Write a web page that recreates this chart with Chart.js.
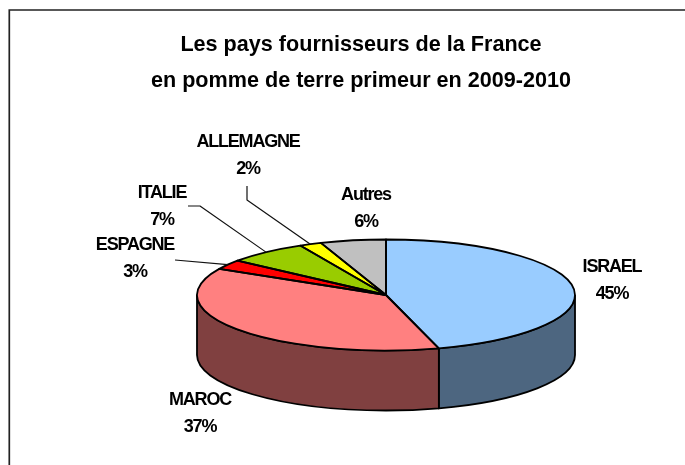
<!DOCTYPE html>
<html><head><meta charset="utf-8">
<style>html,body{margin:0;padding:0;background:#fff}canvas{display:block}</style>
<script src="https://cdn.jsdelivr.net/npm/chart.js@4/dist/chart.umd.min.js"></script>
</head><body><canvas id="c" width="685" height="465"></canvas>
<script>
const categories = ["ISRAEL","MAROC","ESPAGNE","ITALIE","ALLEMAGNE","Autres"];
const shareValues = [45.49,37.31,2.8,6.9,1.9,5.6];
const topColors = ["#99CCFF","#FF8080","#FF0000","#99CC00","#FFFF00","#C0C0C0"];
const sideColors = ["#4D6680","#804040","#800000","#4D6600","#808000","#606060"];
const titleLines = ["Les pays fournisseurs de la France","en pomme de terre primeur en 2009-2010"];

// label text centres and leader-line waypoints (null = no leader)
const labelPos = [[612,267],[200,400],[135,245],[162,193],[248,142],[366,195]];
const leaderPts = [null,null,[[175,260]],[[188,206],[200,206]],[[247,186],[247,200]],null];

const PIE = {cx:386, cy:295, rx:189, ry:55.5, depth:60};
const FONT = 'bold 18px "Liberation Sans", Arial, sans-serif';

function project(arc, a){ return [PIE.cx+PIE.rx*Math.cos(a), PIE.cy+PIE.ry*Math.sin(a)]; }
function pieTransform(ctx, arc, dy){
  const k = PIE.rx/arc.outerRadius;
  ctx.translate(PIE.cx, PIE.cy+(dy||0));
  ctx.scale(k, PIE.ry/PIE.rx*k);
  ctx.translate(-arc.x, -arc.y);
}
const pie3d = {
  id:'pie3d',
  beforeDraw(chart){
    const ctx = chart.ctx;
    ctx.save();
    ctx.fillStyle='#fff'; ctx.fillRect(0,0,685,465);
    ctx.strokeStyle='#222'; ctx.lineWidth=1.7;
    ctx.beginPath(); ctx.moveTo(9.3,470); ctx.lineTo(9.3,10); ctx.lineTo(690,10); ctx.stroke();
    ctx.restore();
  },
  beforeDatasetsDraw(chart){
    const ctx = chart.ctx, arcs = chart.getDatasetMeta(0).data;
    ctx.save();
    arcs.forEach((arc,i)=>{
      const s=Math.max(arc.startAngle,0), e=Math.min(arc.endAngle,Math.PI);
      if(e<=s) return;
      ctx.beginPath();
      ctx.ellipse(PIE.cx,PIE.cy,PIE.rx,PIE.ry,0,s,e);
      ctx.ellipse(PIE.cx,PIE.cy+PIE.depth,PIE.rx,PIE.ry,0,e,s,true);
      ctx.closePath();
      ctx.fillStyle=sideColors[i]; ctx.fill();
      ctx.strokeStyle='#000'; ctx.lineWidth=1.8; ctx.stroke();
    });
    ctx.restore();
    ctx.save();
    pieTransform(ctx, arcs[0]);
  },
  afterDatasetsDraw(chart){
    const ctx = chart.ctx, arcs = chart.getDatasetMeta(0).data;
    ctx.restore();
    ctx.save();
    ctx.strokeStyle='#000'; ctx.lineWidth=1.8; ctx.lineJoin='round';
    arcs.forEach(arc=>{
      ctx.beginPath();
      ctx.moveTo(PIE.cx,PIE.cy);
      ctx.ellipse(PIE.cx,PIE.cy,PIE.rx,PIE.ry,0,arc.startAngle,arc.endAngle);
      ctx.closePath();
      ctx.stroke();
    });
    ctx.lineWidth=1.2; ctx.strokeStyle='#111';
    arcs.forEach((arc,i)=>{
      if(!leaderPts[i]) return;
      const end=project(arc,(arc.startAngle+arc.endAngle)/2);
      ctx.beginPath();
      leaderPts[i].forEach((p,j)=> j?ctx.lineTo(p[0],p[1]):ctx.moveTo(p[0],p[1]));
      ctx.lineTo(end[0],end[1]);
      ctx.stroke();
    });
    ctx.fillStyle='#000'; ctx.font=FONT; ctx.textAlign='center'; ctx.textBaseline='middle';
    ctx.letterSpacing='-1.2px';
    categories.forEach((c,i)=>{
      ctx.fillText(c,labelPos[i][0],labelPos[i][1]);
      ctx.fillText(Math.round(shareValues[i])+'%',labelPos[i][0],labelPos[i][1]+27);
    });
    ctx.restore();
  }
};
new Chart(document.getElementById('c'),{
  type:'pie',
  data:{labels:categories,datasets:[{data:shareValues,backgroundColor:topColors,borderWidth:0,radius:189}]},
  options:{
    responsive:false,animation:false,devicePixelRatio:1,
    layout:{padding:{left:37,right:0,top:0,bottom:0}},
    plugins:{
      legend:{display:false},tooltip:{enabled:false},
      title:{display:true,text:titleLines,color:'#000',fullSize:false,
        font:{family:'"Liberation Sans", Arial, sans-serif',size:21.6,weight:'bold',lineHeight:1.67},
        padding:{top:27,bottom:0}}
    }
  },
  plugins:[pie3d]
});
</script></body></html>
